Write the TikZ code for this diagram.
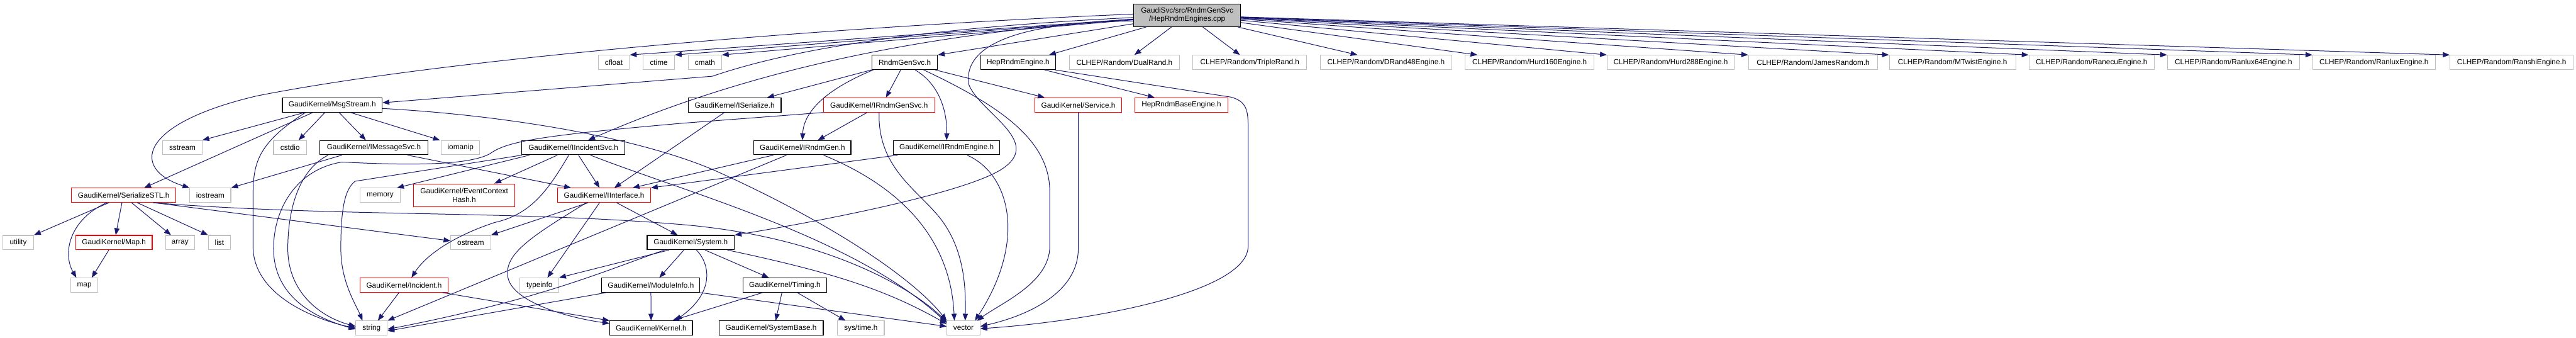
\documentclass[tikz,border=0pt]{standalone}
\usepackage{fontspec}
\setmainfont{Liberation Sans}
\usetikzlibrary{arrows.meta}
\definecolor{edgec}{HTML}{191970}
\definecolor{extc}{HTML}{BFBFBF}
\definecolor{mainfill}{HTML}{BFBFBF}
\begin{document}
\begin{tikzpicture}[x=1pt,y=-0.99pt,
  nd/.style={rectangle, line width=1.2pt, minimum height=25pt, inner sep=0pt,
    font=\fontsize{13}{14.6}\selectfont, align=center},
  doc/.style={nd, draw=black},
  ext/.style={nd, draw=extc},
  trunc/.style={nd, draw=red},
  mainnode/.style={nd, draw=black, fill=mainfill, minimum height=40pt},
  e/.style={draw=edgec, line width=1.1pt, -{Triangle[length=12pt,width=9pt]}}
]
\useasboundingbox (0,0) rectangle (4520,598);

% row 0
\node[mainnode, minimum width=187pt] (main) at (2083,27) {GaudiSvc/src/RndmGenSvc\\/HepRndmEngines.cpp};
% row 1
\node[ext, minimum width=55pt] (cfloat) at (1077,110.5) {cfloat};
\node[ext, minimum width=55pt] (ctime) at (1156,110.5) {ctime};
\node[ext, minimum width=58pt] (cmath) at (1237,110.5) {cmath};
\node[doc, minimum width=115pt] (rgs) at (1587.5,110.5) {RndmGenSvc.h};
\node[doc, minimum width=131pt] (hre) at (1786.5,110.5) {HepRndmEngine.h};
\node[ext, minimum width=194pt] (dual) at (1973,110.5) {CLHEP/Random/DualRand.h};
\node[ext, minimum width=200pt] (triple) at (2193,110.5) {CLHEP/Random/TripleRand.h};
\node[ext, minimum width=231pt] (drand) at (2432,110.5) {CLHEP/Random/DRand48Engine.h};
\node[ext, minimum width=226pt] (h160) at (2684,110.5) {CLHEP/Random/Hurd160Engine.h};
\node[ext, minimum width=223pt] (h288) at (2931.5,110.5) {CLHEP/Random/Hurd288Engine.h};
\node[ext, minimum width=227pt] (james) at (3181.5,110.5) {CLHEP/Random/JamesRandom.h};
\node[ext, minimum width=222pt] (mtwist) at (3426,110.5) {CLHEP/Random/MTwistEngine.h};
\node[ext, minimum width=220pt] (ranecu) at (3670,110.5) {CLHEP/Random/RanecuEngine.h};
\node[ext, minimum width=232pt] (rl64) at (3919,110.5) {CLHEP/Random/Ranlux64Engine.h};
\node[ext, minimum width=215pt] (rl) at (4165.5,110.5) {CLHEP/Random/RanluxEngine.h};
\node[ext, minimum width=216pt] (ranshi) at (4407,110.5) {CLHEP/Random/RanshiEngine.h};
% row 2
\node[doc, minimum width=175pt] (msg) at (583,186) {GaudiKernel/MsgStream.h};
\node[doc, minimum width=163pt] (iser) at (1289,186) {GaudiKernel/ISerialize.h};
\node[trunc, minimum width=195pt] (irgs) at (1542.5,186) {GaudiKernel/IRndmGenSvc.h};
\node[trunc, minimum width=153pt] (svc) at (1892,186) {GaudiKernel/Service.h};
\node[trunc, minimum width=163pt] (hrbe) at (2073,186) {HepRndmBaseEngine.h};
% row 3
\node[ext, minimum width=69pt] (sstream) at (320,261.5) {sstream};
\node[ext, minimum width=58pt] (cstdio) at (509,261.5) {cstdio};
\node[doc, minimum width=189pt] (imsg) at (656,261.5) {GaudiKernel/IMessageSvc.h};
\node[ext, minimum width=67pt] (iomanip) at (808,261.5) {iomanip};
\node[doc, minimum width=181pt] (iinc) at (1006,261.5) {GaudiKernel/IIncidentSvc.h};
\node[doc, minimum width=170pt] (irg) at (1408,261.5) {GaudiKernel/IRndmGen.h};
\node[doc, minimum width=187pt] (ireng) at (1661,261.5) {GaudiKernel/IRndmEngine.h};
% row 4
\node[trunc, minimum width=183pt] (sstl) at (217,345.8) {GaudiKernel/SerializeSTL.h};
\node[ext, minimum width=72pt] (iostream) at (369,345.8) {iostream};
\node[ext, minimum width=70pt] (memory) at (667,345.8) {memory};
\node[trunc, minimum width=177pt, minimum height=40pt] (ech) at (814.5,345.8) {GaudiKernel/EventContext\\Hash.h};
\node[trunc, minimum width=163pt] (iint) at (1060,345.8) {GaudiKernel/IInterface.h};
% row 5
\node[ext, minimum width=54pt] (utility) at (32,429.5) {utility};
\node[trunc, minimum width=134pt] (maph) at (200,429.5) {GaudiKernel/Map.h};
\node[ext, minimum width=51pt] (array) at (316,429.5) {array};
\node[ext, minimum width=39pt] (list) at (385,429.5) {list};
\node[ext, minimum width=70pt] (ostream) at (826,429.5) {ostream};
\node[doc, minimum width=153pt] (sys) at (1212,429.5) {GaudiKernel/System.h};
% row 6
\node[ext, minimum width=47pt] (map) at (148,505) {map};
\node[trunc, minimum width=154pt] (inc) at (709,505) {GaudiKernel/Incident.h};
\node[ext, minimum width=68pt] (typeinfo) at (946.5,505) {typeinfo};
\node[doc, minimum width=172pt] (modinfo) at (1142,505) {GaudiKernel/ModuleInfo.h};
\node[doc, minimum width=147pt] (timing) at (1377,505) {GaudiKernel/Timing.h};
% row 7
\node[ext, minimum width=55pt] (string) at (652,581) {string};
\node[doc, minimum width=145pt] (kernel) at (1142.5,581) {GaudiKernel/Kernel.h};
\node[doc, minimum width=183pt] (sysbase) at (1353,581) {GaudiKernel/SystemBase.h};
\node[ext, minimum width=82pt] (systime) at (1510.5,581) {sys/time.h};
\node[ext, minimum width=58pt] (vector) at (1690.6,581) {vector};

% ---- edges from main
\draw[e] (main) -- (cfloat.north east);
\draw[e] (main) -- (ctime.north east);
\draw[e] (main) -- (cmath.north east);
\draw[e] (main) -- (rgs.north east);
\draw[e] (main) -- ([xshift=-12pt]hre.north east);
\draw[e] (main) -- (dual);
\draw[e] (main) -- (triple);
\draw[e] (main) -- ([xshift=66pt]drand.north west);
\draw[e] (main) -- ([xshift=22pt]h160.north west);
\draw[e] (main) -- (h288.north west);
\draw[e] (main) -- (james.north west);
\draw[e] (main) -- (mtwist.north west);
\draw[e] (main) -- (ranecu.north west);
\draw[e] (main) -- (rl64.north west);
\draw[e] (main) -- (rl.north west);
\draw[e] (main) -- (ranshi.north west);
\draw[e] ([yshift=2pt]main.west) .. controls (1500,45) and (800,100) .. (450,170) .. controls (240,220) and (230,300) .. (iostream.north west);
\draw[e] ([yshift=-4pt]main.west) .. controls (1600,50) and (1380,90) .. (1250,135) -- ([yshift=4pt]msg.east);
\draw[e] ([yshift=-7pt]main.west) .. controls (1600,60) and (1300,130) .. ([xshift=26pt]iinc.north);
\draw[e] ([yshift=-10pt]main.west) .. controls (1760,40) and (1690,90) .. (1700,150) .. controls (1720,200) and (1830,250) .. (1760,298) .. controls (1700,340) and (1450,390) .. (sys.north east);

% ---- RndmGenSvc.h
\draw[e] (rgs.south west) -- ([xshift=-25pt]iser.north east);
\draw[e] ([xshift=-7pt]rgs.south) -- ([xshift=12pt]irgs.north);
\draw[e] ([xshift=3pt]rgs.south west) .. controls (1445,160) and (1410,200) .. (irg.north);
\draw[e] ([xshift=18pt]rgs.south) .. controls (1650,150) and (1662,200) .. (ireng.north);
\draw[e] ([xshift=-5pt]rgs.south east) -- ([xshift=-59pt]svc.north);
\draw[e] ([xshift=33pt]rgs.south) .. controls (1760,190) and (1842,250) .. (1842,340) -- (1842,436) .. controls (1842,500) and (1760,535) .. ([xshift=-6pt]vector.north east);

% ---- HepRndmEngine.h
\draw[e] ([xshift=46pt]hre.south) -- ([xshift=-47pt]hrbe.north);
\draw[e] ([xshift=-2pt]hre.south east) -- (2160,172) .. controls (2190,180) and (2190,200) .. (2190,230) -- (2190,436) .. controls (2190,520) and (1900,570) .. ([yshift=-1pt]vector.east);

% ---- Service.h
\draw[e] (svc.south) -- (1892,440) .. controls (1892,520) and (1800,560) .. ([yshift=3pt]vector.east);

% ---- MsgStream.h
\draw[e] (msg) -- (sstream.north east);
\draw[e] ([xshift=-34pt]msg.south) -- ([xshift=36pt]sstl.north);
\draw[e] ([xshift=-13pt]msg.south) -- ([xshift=15pt]cstdio.north);
\draw[e] ([xshift=12pt]msg.south) -- ([xshift=-14pt]imsg.north);
\draw[e] ([xshift=32pt]msg.south) -- ([xshift=-2pt]iomanip.north west);
\draw[e] ([xshift=-47pt]msg.south) .. controls (450,255) and (444,290) .. (444,350) -- (444,436) .. controls (444,530) and (570,570) .. (string.west);
\draw[e] ([yshift=-6pt]msg.east) .. controls (900,205) and (1120,245) .. (1250,300) .. controls (1450,390) and (1600,490) .. (vector.north west);

% ---- IMessageSvc.h
\draw[e] ([xshift=-56pt]imsg.south) -- (iostream.north east);
\draw[e] ([xshift=59pt]imsg.south) -- ([xshift=24pt]iint.north west);
\draw[e] ([xshift=-80pt]imsg.south) .. controls (525,300) and (505,370) .. (505,440) .. controls (505,520) and (565,562) .. ([yshift=3pt]string.west);

% ---- SerializeSTL.h
\draw[e] ([xshift=-26pt]sstl.south) -- (utility.north east);
\draw[e] ([xshift=-30pt]sstl.south) .. controls (120,390) and (110,450) .. ([xshift=-14pt]map.north);
\draw[e] ([xshift=-3pt]sstl.south) -- ([xshift=3pt]maph.north);
\draw[e] ([xshift=14pt]sstl.south) -- ([xshift=-16pt]array.north);
\draw[e] ([xshift=24pt]sstl.south) -- (list.north west);
\draw[e] ([xshift=-38pt]sstl.south east) -- ([yshift=3pt]ostream.west);
\draw[e] ([xshift=-41pt]sstl.south east) .. controls (600,385) and (900,372) .. (1200,398) .. controls (1450,420) and (1600,510) .. ([yshift=-2pt]vector.north west);

% ---- Map.h
\draw[e] ([xshift=-9pt]maph.south) -- ([xshift=13pt]map.north);

% ---- IIncidentSvc.h
\draw[e] ([xshift=-77pt]iinc.south) -- ([xshift=-6pt]memory.north east);
\draw[e] ([xshift=-28pt]iinc.south) -- ([xshift=53pt]ech.north);
\draw[e] ([xshift=9pt]iinc.south) -- ([xshift=-8pt]iint.north);
\draw[e] ([xshift=-8pt]iinc.south) .. controls (960,340) and (930,380) .. (868,394) .. controls (790,420) and (745,455) .. ([xshift=13pt]inc.north);
\draw[e] ([xshift=-90pt]iinc.south) -- (623,321) .. controls (605,335) and (598,370) .. (598,440) .. controls (598,500) and (625,540) .. ([xshift=-16pt]string.north);
\draw[e] ([xshift=30pt]iinc.south) .. controls (1200,340) and (1500,420) .. ([yshift=-4pt]vector.north west);

% ---- IInterface.h
\draw[e] ([xshift=-28pt]iint.south) -- (ostream.north east);
\draw[e] ([xshift=-8pt]iint.south) -- ([xshift=14pt]typeinfo.north);
\draw[e] ([xshift=22pt]iint.south) -- ([xshift=-23pt]sys.north);
\draw[e] ([xshift=-31pt]iint.south) .. controls (930,420) and (885,450) .. (891,490) .. controls (897,530) and (980,560) .. ([yshift=-5pt]kernel.north west);

% ---- Incident.h
\draw[e] ([xshift=-9pt]inc.south) -- ([xshift=11pt]string.north);
\draw[e] ([xshift=-10pt]inc.south east) -- (kernel.north west);

% ---- System.h
\draw[e] ([xshift=-12pt]sys.south) -- ([xshift=15pt]modinfo.north);
\draw[e] ([xshift=25pt]sys.south) -- ([xshift=-28pt]timing.north);
\draw[e] ([xshift=10pt]sys.south) .. controls (1248,470) and (1252,520) .. ([xshift=42pt]kernel.north);
\draw[e] ([xshift=-46pt]sys.south) .. controls (1060,480) and (950,530) .. ([yshift=-2pt]string.east);
\draw[e] ([xshift=-38pt]sys.south) -- (typeinfo.north east);
\draw[e] ([xshift=-13pt]sys.south east) .. controls (1450,480) and (1550,510) .. ([yshift=-6pt]vector.north west);

% ---- ModuleInfo.h
\draw[e] (modinfo) -- (kernel);
\draw[e] ([xshift=8pt]modinfo.south west) -- ([yshift=-5pt]string.east);
\draw[e] (modinfo.south east) -- ([yshift=3pt]vector.west);

% ---- Timing.h
\draw[e] ([xshift=-39pt]timing.south) -- ([xshift=37pt]kernel.north);
\draw[e] ([xshift=-5pt]timing.south) -- ([xshift=8pt]sysbase.north);
\draw[e] ([xshift=22pt]timing.south) -- ([xshift=-27pt]systime.north);

% ---- IRndmGen.h
\draw[e] ([xshift=-51pt]irg.south) -- ([xshift=-32pt]iint.north east);
\draw[e] ([xshift=-28pt]irg.south) -- (string.north east);
\draw[e] ([xshift=37pt]irg.south) .. controls (1590,335) and (1668,430) .. ([xshift=-16pt]vector.north);

% ---- IRndmEngine.h
\draw[e] ([xshift=-86pt]ireng.south) -- (iint.north east);
\draw[e] ([xshift=36pt]ireng.south) .. controls (1775,310) and (1800,430) .. ([xshift=20pt]vector.north);

% ---- IRndmGenSvc.h
\draw[e] ([xshift=-21pt]irgs.south) -- ([xshift=27pt]irg.north);
\draw[e] (irgs.south) .. controls (1540,290) and (1600,330) .. (1640,375) .. controls (1690,430) and (1695,500) .. ([xshift=3pt]vector.north);
\draw[e] (irgs.south west) -- (1200,218) .. controls (950,240) and (890,250) .. (860,272) .. controls (820,295) and (700,292) .. (600,287) .. controls (520,300) and (480,370) .. (480,440) .. controls (480,530) and (560,565) .. ([yshift=-2pt]string.west);

% ---- ISerialize.h
\draw[e] ([xshift=-18pt]iser.south) -- ([xshift=18pt]iint.north);
\end{tikzpicture}
\end{document}
